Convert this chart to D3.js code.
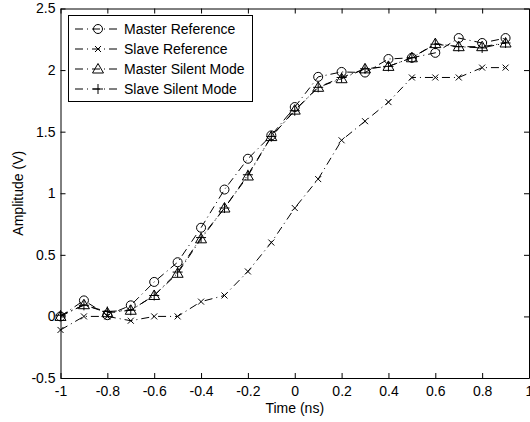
<!DOCTYPE html>
<html>
<head>
<meta charset="utf-8">
<script src="https://cdn.jsdelivr.net/npm/d3@7"></script>
<style>
  body { margin: 0; background: #fff; }
  svg text { font-family: "Liberation Sans", Arial, sans-serif; font-size: 14px; fill: #000; }
</style>
</head>
<body>
<div id="chart"></div>
<script>
// time axis (ns)
const times = [-1, -0.9, -0.8, -0.7, -0.6, -0.5, -0.4, -0.3, -0.2, -0.1,
               0, 0.1, 0.2, 0.3, 0.4, 0.5, 0.6, 0.7, 0.8, 0.9];

const masterRef = [0.0, 0.13, 0.01, 0.09, 0.28, 0.44, 0.72, 1.03, 1.28, 1.47,
                   1.70, 1.945, 1.985, 1.98, 2.09, 2.10, 2.14, 2.26, 2.22, 2.26];
const slaveRef = [-0.11, 0.0, 0.0, -0.035, 0.0, 0.0, 0.12, 0.17, 0.365, 0.60,
                  0.88, 1.115, 1.43, 1.585, 1.74, 1.94, 1.94, 1.94, 2.02, 2.02];
const masterSilent = [0.0, 0.095, 0.03, 0.05, 0.17, 0.35, 0.63, 0.88, 1.14, 1.46,
                      1.675, 1.86, 1.93, 2.01, 2.03, 2.10, 2.215, 2.19, 2.19, 2.22];
const slaveSilent = [0.01, 0.09, 0.04, 0.05, 0.17, 0.36, 0.64, 0.88, 1.15, 1.46,
                     1.67, 1.86, 1.94, 2.01, 2.03, 2.10, 2.21, 2.19, 2.18, 2.22];

const seriesNames = ["Master Reference", "Slave Reference", "Master Silent Mode", "Slave Silent Mode"];
const seriesMarkers = ["circle", "x", "triangle", "plus"];

const xTicks = [-1, -0.8, -0.6, -0.4, -0.2, 0, 0.2, 0.4, 0.6, 0.8, 1];
const yTicks = [-0.5, 0, 0.5, 1, 1.5, 2, 2.5];

const series = [masterRef, slaveRef, masterSilent, slaveSilent].map((vals, i) => ({
    name: seriesNames[i],
    marker: seriesMarkers[i],
    points: times.map((t, j) => ({ t: t, v: vals[j] }))
}));

const width = 530, height = 422;
const margin = { left: 60.5, right: 1, top: 8.5, bottom: 44 };

const svg = d3.select("#chart").append("svg")
    .attr("width", width)
    .attr("height", height);

const x = d3.scaleLinear().domain([-1, 1]).range([margin.left, width - margin.right]);
const y = d3.scaleLinear().domain([-0.5, 2.5]).range([height - margin.bottom, margin.top]);

// axes box with inward ticks on all sides
const fmt = d => String(d);
svg.append("g")
    .attr("transform", `translate(0,${y(-0.5)})`)
    .call(d3.axisBottom(x).tickValues(xTicks).tickFormat(fmt).tickSizeInner(-5).tickSizeOuter(0).tickPadding(8));
svg.append("g")
    .attr("transform", `translate(0,${y(2.5)})`)
    .call(d3.axisTop(x).tickValues(xTicks).tickFormat("").tickSizeInner(-5).tickSizeOuter(0));
svg.append("g")
    .attr("transform", `translate(${x(-1)},0)`)
    .call(d3.axisLeft(y).tickValues(yTicks).tickFormat(fmt).tickSizeInner(-5).tickSizeOuter(0).tickPadding(5));
svg.append("g")
    .attr("transform", `translate(${x(1)},0)`)
    .call(d3.axisRight(y).tickValues(yTicks).tickFormat("").tickSizeInner(-5).tickSizeOuter(0));

svg.selectAll(".domain").attr("stroke", "#000");
svg.selectAll(".tick line").attr("stroke", "#000");
svg.selectAll(".tick text").style("font-size", "14px").attr("fill", "#000");

// lines
const line = d3.line().x(d => x(d.t)).y(d => y(d.v));
const dash = "8,4,1,4";

const plot = svg.append("g");
series.forEach(s => {
    plot.append("path")
        .datum(s.points)
        .attr("d", line)
        .attr("fill", "none")
        .attr("stroke", "#000")
        .attr("stroke-width", 1)
        .attr("stroke-dasharray", dash);
});

function drawMarker(g, type, cx, cy) {
    if (type === "circle") {
        g.append("circle").attr("cx", cx).attr("cy", cy).attr("r", 4.5)
            .attr("fill", "none").attr("stroke", "#000");
    } else if (type === "x") {
        g.append("path").attr("d", `M${cx - 3},${cy - 3}L${cx + 3},${cy + 3}M${cx - 3},${cy + 3}L${cx + 3},${cy - 3}`)
            .attr("stroke", "#000");
    } else if (type === "triangle") {
        g.append("path").attr("d", `M${cx},${cy - 5.5}L${cx + 5.5},${cy + 4}L${cx - 5.5},${cy + 4}Z`)
            .attr("fill", "none").attr("stroke", "#000");
    } else if (type === "plus") {
        g.append("path").attr("d", `M${cx - 5},${cy}L${cx + 5},${cy}M${cx},${cy - 5}L${cx},${cy + 5}`)
            .attr("stroke", "#000");
    }
}

series.forEach(s => {
    const g = plot.append("g");
    s.points.forEach(p => drawMarker(g, s.marker, x(p.t), y(p.v)));
});

// axis labels
svg.append("text")
    .attr("x", x(0))
    .attr("y", 413)
    .attr("text-anchor", "middle")
    .text("Time (ns)");
svg.append("text")
    .attr("transform", `translate(23,${y(1)}) rotate(-90)`)
    .attr("text-anchor", "middle")
    .text("Amplitude (V)");

// legend
const legend = svg.append("g");
legend.append("rect")
    .attr("x", 68.5).attr("y", 15.5)
    .attr("width", 184).attr("height", 86)
    .attr("fill", "#fff").attr("stroke", "#000");
series.forEach((s, i) => {
    const ly = 29 + i * 20;
    legend.append("line")
        .attr("x1", 75).attr("x2", 121).attr("y1", ly).attr("y2", ly)
        .attr("stroke", "#000").attr("stroke-dasharray", dash);
    drawMarker(legend, s.marker, 98, ly);
    legend.append("text")
        .attr("x", 124).attr("y", ly + 5)
        .text(s.name);
});
</script>
</body>
</html>
